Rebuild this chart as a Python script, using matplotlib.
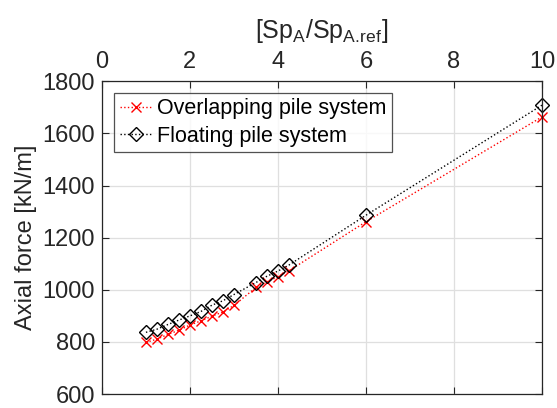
import matplotlib
matplotlib.use("Agg")
import matplotlib.pyplot as plt

plt.rcParams['font.family'] = ['Liberation Sans', 'DejaVu Sans']
plt.rcParams['mathtext.fontset'] = 'custom'
plt.rcParams['mathtext.rm'] = 'Liberation Sans'
plt.rcParams['mathtext.it'] = 'Liberation Sans'

sp_ratio = [1.0, 1.25, 1.5, 1.75, 2.0, 2.25, 2.5, 2.75, 3.0, 3.5, 3.75, 4.0, 4.25, 6.0, 10.0]
overlapping = [798, 811, 829, 845, 865, 881, 899, 915, 940, 1009, 1031, 1050, 1073, 1261, 1663]
floating = [837, 849, 867, 884, 900, 917, 941, 958, 982, 1028, 1052, 1072, 1095, 1286, 1708]

x_ticks = [0, 2, 4, 6, 8, 10]
y_ticks = [600, 800, 1000, 1200, 1400, 1600, 1800]

fig = plt.figure(figsize=(5.57, 4.08), dpi=100)
ax = fig.add_axes([0.183, 0.034, 0.79, 0.767])

ax.plot(sp_ratio, overlapping, color='red', linestyle=':', linewidth=1.0,
        marker='x', markersize=6.5, markeredgewidth=1.0, clip_on=False,
        label='Overlapping pile system')
ax.plot(sp_ratio, floating, color='black', linestyle=':', linewidth=1.0,
        marker='D', markersize=7, markerfacecolor='none', markeredgewidth=1.0,
        clip_on=False, label='Floating pile system')

ax.set_xlim(0, 10)
ax.set_ylim(600, 1800)
ax.set_xticks(x_ticks)
ax.set_yticks(y_ticks)
ax.xaxis.tick_top()
ax.xaxis.set_label_position('top')
ax.tick_params(axis='both', direction='in', labelsize=17, colors='#262626',
               length=5, width=0.8, top=True, bottom=True, left=True, right=True,
               labelbottom=False, labeltop=True)
ax.tick_params(axis='x', pad=6)
ax.tick_params(axis='y', pad=5)
ax.grid(True, color='#dfdfdf', linewidth=0.9)
ax.set_axisbelow(True)
for s in ax.spines.values():
    s.set_color('#262626')
    s.set_linewidth(0.9)

ax.set_xlabel(r'[Sp$_\mathrm{A}$/Sp$_\mathrm{A.\!ref}$]', fontsize=18, color='#262626', labelpad=9)
ax.set_ylabel('Axial force [kN/m]', fontsize=17, color='#262626', labelpad=4)

leg = ax.legend(loc='upper left', fontsize=15.5, frameon=True, fancybox=False,
                edgecolor='#262626', handlelength=1.55, handletextpad=0.2,
                borderpad=0.25, borderaxespad=0.0, labelspacing=0.3,
                bbox_to_anchor=(0.028, 0.963))
leg.get_frame().set_linewidth(0.9)

fig.savefig('out.png', dpi=100)
